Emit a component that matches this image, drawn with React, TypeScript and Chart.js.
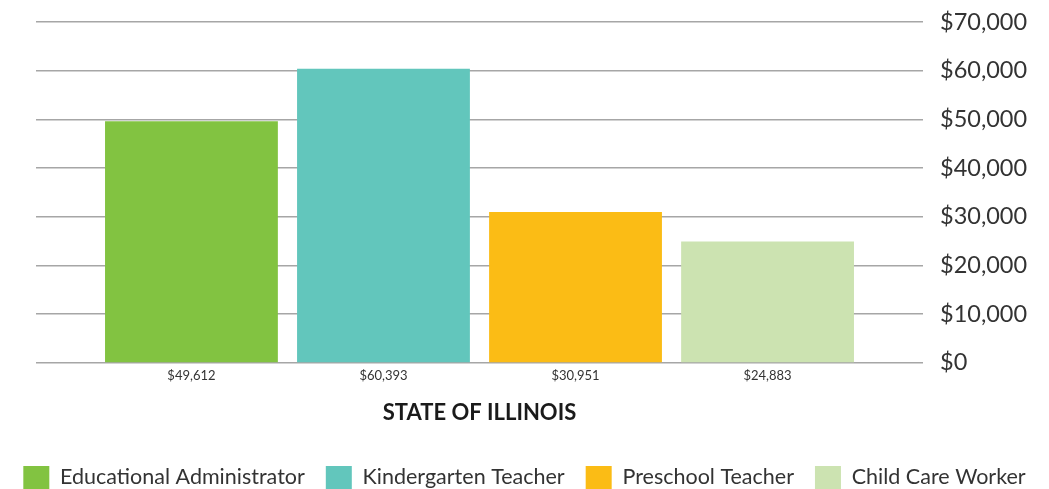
import React, { useEffect, useRef } from "react";
import { Chart, registerables } from "chart.js";

Chart.register(...registerables);

const categories = ["STATE OF ILLINOIS"];
const seriesNames = [
  "Educational Administrator",
  "Kindergarten Teacher",
  "Preschool Teacher",
  "Child Care Worker",
];
const seriesValues = [49612, 60393, 30951, 24883];
const seriesColors = ["#82c341", "#62c6bc", "#fbbc15", "#cce3b1"];
const yTicks = [0, 10000, 20000, 30000, 40000, 50000, 60000, 70000];

const fmt = (v: number) => "$" + v.toLocaleString("en-US");

const valueLabels = {
  id: "valueLabels",
  afterDatasetsDraw(chart: any) {
    const ctx = chart.ctx;
    ctx.save();
    ctx.font = "13px Lato";
    ctx.fillStyle = "#333333";
    ctx.textAlign = "center";
    ctx.textBaseline = "middle";
    chart.data.datasets.forEach((ds: any, i: number) => {
      const meta = chart.getDatasetMeta(i);
      const el = meta.data[0];
      if (!el) return;
      ctx.fillText(fmt(ds.data[0]), el.x, chart.chartArea.bottom + 13);
    });
    ctx.restore();
  },
};

export default function App() {
  const ref = useRef<HTMLCanvasElement>(null);
  useEffect(() => {
    if (!ref.current) return;
    const chart = new Chart(ref.current, {
      type: "bar",
      data: {
        labels: categories,
        datasets: seriesNames.map((name, i) => ({
          label: name,
          data: [seriesValues[i]],
          backgroundColor: seriesColors[i],
          borderWidth: 0,
          barPercentage: 0.9,
          categoryPercentage: 0.866,
        })),
      },
      options: {
        animation: false,
        responsive: true,
        maintainAspectRatio: false,
        layout: { padding: { left: 0, right: 0, top: 0, bottom: -10 } },
        plugins: {
          tooltip: { enabled: false },
          legend: {
            position: "bottom",
            labels: {
              boxWidth: 26,
              boxHeight: 23,
              padding: 21,
              color: "#333333",
              font: { family: "Lato", size: 21.5 },
            },
          },
        },
        scales: {
          x: {
            grid: { display: false },
            border: { display: false },
            ticks: { display: false },
            title: {
              display: true,
              text: categories[0],
              color: "#1a1a1a",
              font: { family: "Lato", size: 22, weight: "bold" },
              padding: { top: 29, bottom: 19 },
            },
          },
          yLeft: {
            position: "left",
            display: true,
            grid: { display: false },
            border: { display: false },
            ticks: { display: false },
            afterFit: (axis: any) => {
              axis.width = 36;
            },
          },
          y: {
            position: "right",
            min: 0,
            max: 70000,
            afterBuildTicks: (axis: any) => {
              axis.ticks = yTicks.map((v) => ({ value: v }));
            },
            afterFit: (axis: any) => {
              axis.width = 126;
              axis.paddingTop = 22;
              axis.paddingBottom = 0;
            },
            grid: { color: "#a6a6a6", lineWidth: 1.5, drawTicks: false },
            border: { display: false },
            ticks: {
              padding: 17,
              color: "#333333",
              font: { family: "Lato", size: 23.5 },
              callback: (v: any) => fmt(Number(v)),
            },
          },
        },
      },
      plugins: [valueLabels],
    });
    return () => chart.destroy();
  }, []);
  return (
    <div style={{ position: "fixed", left: 0, top: 0, width: 1049, height: 489, background: "#fff" }}>
      <canvas ref={ref} />
    </div>
  );
}
